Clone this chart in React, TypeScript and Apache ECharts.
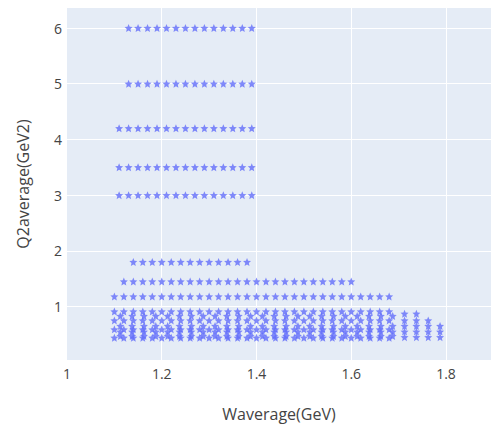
import React, { useEffect, useRef } from "react";
import * as echarts from "echarts";

// Kinematic rows: W values (GeV) for each Q2 row (GeV2)
const wRow6 = [1.13, 1.15, 1.17, 1.19, 1.21, 1.23, 1.25, 1.27, 1.29, 1.31, 1.33, 1.35, 1.37, 1.39];
const wRow5 = [1.13, 1.15, 1.17, 1.19, 1.21, 1.23, 1.25, 1.27, 1.29, 1.31, 1.33, 1.35, 1.37, 1.39];
const wRow42 = [1.11, 1.13, 1.15, 1.17, 1.19, 1.21, 1.23, 1.25, 1.27, 1.29, 1.31, 1.33, 1.35, 1.37, 1.39];
const wRow35 = [1.11, 1.13, 1.15, 1.17, 1.19, 1.21, 1.23, 1.25, 1.27, 1.29, 1.31, 1.33, 1.35, 1.37, 1.39];
const wRow30 = [1.11, 1.13, 1.15, 1.17, 1.19, 1.21, 1.23, 1.25, 1.27, 1.29, 1.31, 1.33, 1.35, 1.37, 1.39];
const wRow18 = [1.14, 1.16, 1.18, 1.20, 1.22, 1.24, 1.26, 1.28, 1.30, 1.32, 1.34, 1.36, 1.38];
const wRow145 = [1.12, 1.14, 1.16, 1.18, 1.20, 1.22, 1.24, 1.26, 1.28, 1.30, 1.32, 1.34, 1.36, 1.38, 1.40, 1.42, 1.44, 1.46, 1.48, 1.50, 1.52, 1.54, 1.56, 1.58, 1.60];
const wRow118 = [1.10, 1.12, 1.14, 1.16, 1.18, 1.20, 1.22, 1.24, 1.26, 1.28, 1.30, 1.32, 1.34, 1.36, 1.38, 1.40, 1.42, 1.44, 1.46, 1.48, 1.50, 1.52, 1.54, 1.56, 1.58, 1.60, 1.62, 1.64, 1.66, 1.68];
const rowQ2 = [6.0, 5.0, 4.2, 3.5, 3.0, 1.8, 1.45, 1.18];
const rowW = [wRow6, wRow5, wRow42, wRow35, wRow30, wRow18, wRow145, wRow118];

// Dense low-Q2 region: grid A
const wGridA = [1.10, 1.12, 1.14, 1.16, 1.18, 1.20, 1.22, 1.24, 1.26, 1.28, 1.30, 1.32, 1.34, 1.36, 1.38, 1.40, 1.42, 1.44, 1.46, 1.48, 1.50, 1.52, 1.54, 1.56, 1.58, 1.60, 1.62, 1.64, 1.66, 1.68];
const q2GridA = [0.44, 0.59, 0.75, 0.91];
// Dense low-Q2 region: grid B
const wGridB = [1.1125, 1.1375, 1.1625, 1.1875, 1.2125, 1.2375, 1.2625, 1.2875, 1.3125, 1.3375, 1.3625, 1.3875, 1.4125, 1.4375, 1.4625, 1.4875, 1.5125, 1.5375, 1.5625, 1.5875, 1.6125, 1.6375, 1.6625, 1.6875];
const q2GridB = [0.47, 0.55, 0.65, 0.83];
// High-W tail columns
const wTail = [1.7125, 1.7375, 1.7625, 1.7875];
const q2Tail = [
  [0.45, 0.55, 0.65, 0.75, 0.87],
  [0.45, 0.55, 0.65, 0.75, 0.87],
  [0.45, 0.55, 0.65, 0.75],
  [0.45, 0.55, 0.65],
];

const xTicks = [1, 1.2, 1.4, 1.6, 1.8];
const yTicks = [1, 2, 3, 4, 5, 6];

const STAR =
  "path://M10 0L12.65 6.36L19.51 6.91L14.28 11.39L15.88 18.09L10 14.5L4.12 18.09L5.72 11.39L0.49 6.91L7.35 6.36Z";

function buildPoints(): number[][] {
  const pts: number[][] = [];
  rowQ2.forEach((q, i) => rowW[i].forEach((w) => pts.push([w, q])));
  wGridA.forEach((w) => q2GridA.forEach((q) => pts.push([w, q])));
  wGridB.forEach((w) => q2GridB.forEach((q) => pts.push([w, q])));
  wTail.forEach((w, i) => q2Tail[i].forEach((q) => pts.push([w, q])));
  return pts;
}

export default function App() {
  const ref = useRef<HTMLDivElement>(null);
  useEffect(() => {
    if (!ref.current) return;
    const chart = echarts.init(ref.current, undefined, { renderer: "svg" });
    const font = "'Open Sans', 'Noto Sans', sans-serif";
    const textColor = "#444444";
    chart.setOption({
      animation: false,
      backgroundColor: "#ffffff",
      grid: {
        left: 67,
        right: 2,
        top: 8,
        bottom: 65,
        show: true,
        backgroundColor: "#E5ECF6",
        borderWidth: 0,
        outerBoundsMode: "none",
        containLabel: false,
      },
      xAxis: {
        type: "value",
        min: 1,
        max: 1.895,
        name: "Waverage(GeV)",
        nameLocation: "middle",
        nameGap: 46,
        nameTextStyle: { fontFamily: font, fontSize: 16, color: textColor },
        axisLine: { show: false },
        axisTick: { show: false },
        axisLabel: {
          margin: 6,
          fontFamily: font,
          fontSize: 14,
          color: textColor,
          customValues: xTicks,
          formatter: (v: number) => (Math.round(v * 10) / 10).toString(),
        },
        splitLine: { show: false },
      },
      yAxis: {
        type: "value",
        min: 0.04,
        max: 6.36,
        name: "Q2average(GeV2)",
        nameLocation: "middle",
        nameGap: 36,
        nameTextStyle: { fontFamily: font, fontSize: 16, color: textColor },
        axisLine: { show: false },
        axisTick: { show: false },
        axisLabel: {
          margin: 5,
          fontFamily: font,
          fontSize: 14,
          color: textColor,
          customValues: yTicks,
        },
        splitLine: { show: false },
      },
      series: [
        {
          type: "scatter",
          data: buildPoints(),
          symbol: STAR,
          symbolSize: 8,
          itemStyle: { color: "#636EFA" },
          markLine: {
            silent: true,
            symbol: "none",
            label: { show: false },
            lineStyle: { color: "#ffffff", width: 1, type: "solid" },
            z: 1,
            data: [
              ...yTicks.map((v) => ({ yAxis: v })),
              ...xTicks.slice(1).map((v) => ({ xAxis: v })),
            ],
          },
        },
      ],
    });
    return () => chart.dispose();
  }, []);
  return (
    <div
      ref={ref}
      style={{ position: "fixed", left: 0, top: 0, width: 493, height: 425 }}
    />
  );
}
